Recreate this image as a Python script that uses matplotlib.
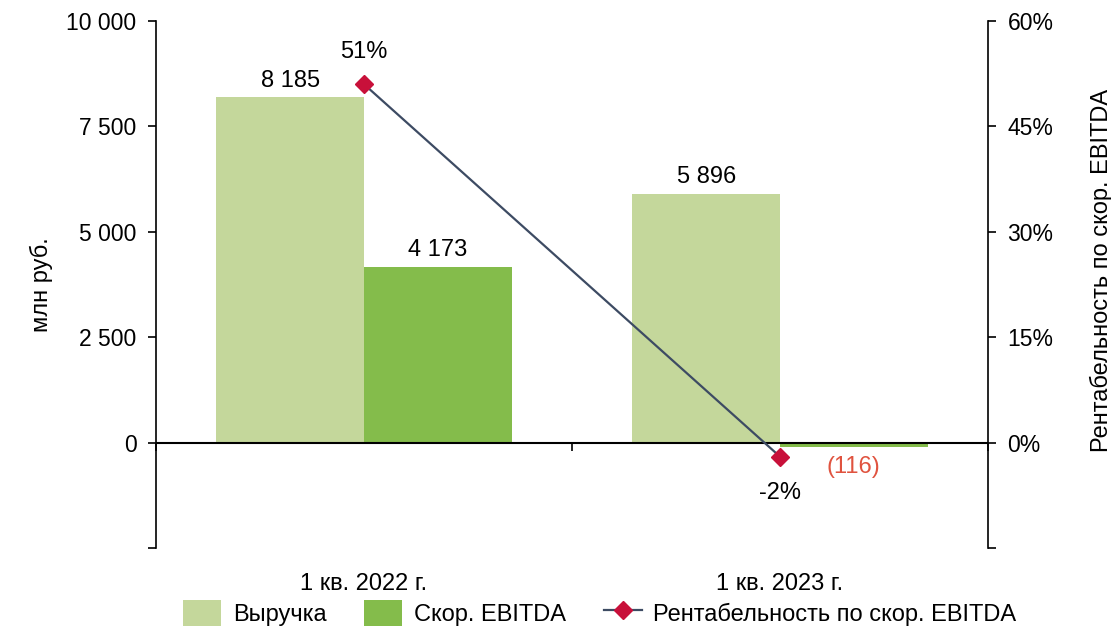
import matplotlib.pyplot as plt
import numpy as np

plt.rcParams['font.family'] = ['Liberation Sans', 'DejaVu Sans']

categories = ["1 кв. 2022 г.", "1 кв. 2023 г."]
revenue = [8185, 5896]
ebitda = [4173, -116]
margin = [51, -2]  # %

c_rev = "#C4D79B"
c_ebitda = "#84BC4B"
c_line = "#3D4B63"
c_marker = "#C8103A"
fs = 17
fs_tick = 16.5

x = np.arange(len(categories))
w = 0.355

fig = plt.figure(figsize=(11.11, 6.3), dpi=100)
ax = fig.add_axes([0.1404, 0.1302, 0.7489, 0.8365])
ax2 = ax.twinx()

b1 = ax.bar(x - w / 2, revenue, w, color=c_rev, label="Выручка", zorder=2)
b2 = ax.bar(x + w / 2, ebitda, w, color=c_ebitda, label="Скор. EBITDA", zorder=2)
ln, = ax2.plot(x, margin, color=c_line, lw=1.6, marker="D", ms=9.2,
               mfc=c_marker, mec=c_marker, label="Рентабельность по скор. EBITDA")

ymin, ymax = -2500, 10000
ax.set_xlim(-0.5, 1.5)
ax.set_ylim(ymin, ymax)
lticks = [-2500, 0, 2500, 5000, 7500, 10000]
ax.set_yticks(lticks)
ax.set_yticklabels([""] + [f"{v:,}".replace(",", " ") for v in lticks[1:]])
ax2.set_ylim(-15, 60)
rticks = [-15, 0, 15, 30, 45, 60]
ax2.set_yticks(rticks)
ax2.set_yticklabels([""] + [f"{v}%" for v in rticks[1:]])

for a in (ax, ax2):
    a.spines['top'].set_visible(False)
    a.spines['bottom'].set_visible(False)
ax.spines['right'].set_visible(False)
ax2.spines['left'].set_visible(False)
ax.spines['left'].set_linewidth(1.2)
ax2.spines['right'].set_linewidth(1.2)

ax.tick_params(axis='y', labelsize=fs_tick, length=6, width=1.2, pad=8)
ax2.tick_params(axis='y', labelsize=fs_tick, length=6, width=1.2, pad=8)

# zero line with category ticks, labels at the bottom
ax.axhline(0, color="black", lw=1.5, zorder=3)
ax.set_xticks(x)
ax.set_xticklabels(categories, fontsize=fs)
ax.tick_params(axis='x', length=0, pad=18)
sec = ax.secondary_xaxis((0 - ymin) / (ymax - ymin))
sec.set_xticks([-0.5, 0.5, 1.5])
sec.set_xticklabels([])
sec.spines['bottom'].set_visible(False)
sec.tick_params(length=6, width=1.2)

ax.set_ylabel("млн руб.", fontsize=fs, labelpad=10)
ax2.set_ylabel("Рентабельность по скор. EBITDA", fontsize=fs)
ax2.yaxis.set_label_coords(1.122, 0.527)

def fmt(v):
    return f"{v:,}".replace(",", " ") if v >= 0 else f"({abs(v)})"

for xi, v in zip(x, revenue):
    ax.annotate(fmt(v), (xi - w / 2, v), xytext=(0, 4), textcoords="offset points",
                ha="center", va="bottom", fontsize=fs)
for xi, v in zip(x, ebitda):
    if v >= 0:
        ax.annotate(fmt(v), (xi + w / 2, v), xytext=(0, 4), textcoords="offset points",
                    ha="center", va="bottom", fontsize=fs)
    else:
        ax.annotate(fmt(v), (xi + w / 2, v), xytext=(0, -6), textcoords="offset points",
                    ha="center", va="top", fontsize=fs, color="#E0533F")
for xi, v in zip(x, margin):
    if v >= 0:
        ax2.annotate(f"{v}%", (xi, v), xytext=(0, 15), textcoords="offset points",
                     ha="center", va="bottom", fontsize=fs)
    else:
        ax2.annotate(f"{v}%", (xi, v), xytext=(0, -18), textcoords="offset points",
                     ha="center", va="top", fontsize=fs)

fig.legend([b1, b2, ln], [b1.get_label(), b2.get_label(), ln.get_label()],
           loc="center", bbox_to_anchor=(0.54, 0.027), ncol=3, frameon=False,
           handlelength=1.6, handleheight=1.3, columnspacing=1.6, handletextpad=0.5,
           fontsize=fs)

fig.savefig("out.png", dpi=100)
